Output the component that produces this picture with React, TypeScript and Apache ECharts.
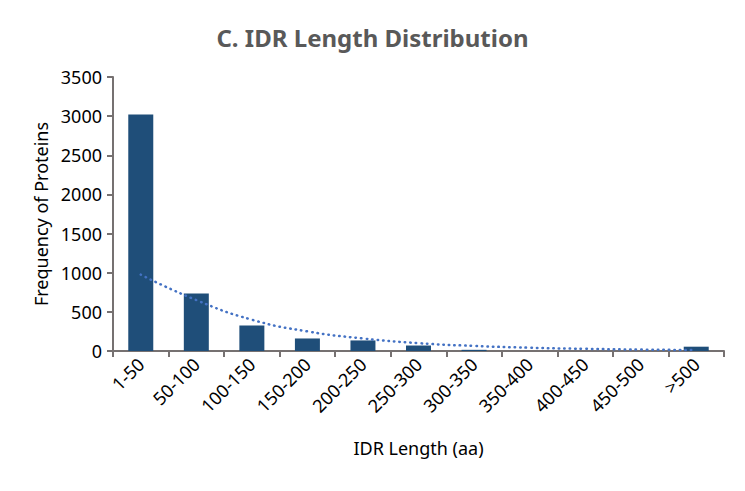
import React, { useEffect, useRef } from "react";
import * as echarts from "echarts";

const categories = ["1-50", "50-100", "100-150", "150-200", "200-250", "250-300", "300-350", "350-400", "400-450", "450-500", ">500"];
const frequencies = [3020, 735, 325, 160, 135, 70, 15, 0, 0, 0, 55];
const trendline = [975, 650, 400, 250, 160, 100, 65, 42, 28, 18, 12];
const yTicks = { min: 0, max: 3500, interval: 500 };

export default function App() {
  const ref = useRef<HTMLDivElement>(null);
  useEffect(() => {
    document.body.style.margin = "0";
    const chart = echarts.init(ref.current!, null, { renderer: "svg" });
    const font = "Noto Sans";
    chart.setOption({
      animation: false,
      title: {
        text: "C. IDR Length Distribution",
        left: "center",
        top: 20,
        textStyle: { fontFamily: font, fontSize: 24, fontWeight: "bold", color: "#595959" },
      },
      grid: { left: 113, right: 21, top: 77, bottom: 140 },
      xAxis: {
        type: "category",
        data: categories,
        name: "IDR Length (aa)",
        nameLocation: "middle",
        nameGap: 88,
        nameTextStyle: { fontFamily: font, fontSize: 18, color: "#000" },
        axisLine: { lineStyle: { color: "#767171", width: 2 } },
        axisTick: { show: true, length: 6, lineStyle: { color: "#767171", width: 2 } },
        axisLabel: { rotate: 45, fontFamily: font, fontSize: 18, color: "#000", margin: 10, interval: 0 },
      },
      yAxis: {
        type: "value",
        min: yTicks.min,
        max: yTicks.max,
        interval: yTicks.interval,
        name: "Frequency of Proteins",
        nameLocation: "middle",
        nameGap: 62,
        nameTextStyle: { fontFamily: font, fontSize: 18, color: "#000" },
        axisLine: { show: true, lineStyle: { color: "#767171", width: 2 } },
        axisTick: { show: true, length: 6, lineStyle: { color: "#767171", width: 2 } },
        axisLabel: { fontFamily: font, fontSize: 18, color: "#000", margin: 11, formatter: (v: number) => String(v) },
        splitLine: { show: false },
      },
      series: [
        {
          type: "bar",
          data: frequencies,
          barWidth: "45%",
          itemStyle: { color: "#1f4e79" },
        },
        {
          type: "line",
          data: trendline,
          smooth: true,
          showSymbol: false,
          symbol: "none",
          lineStyle: { color: "#4472c4", width: 2.5, type: [0.5, 5], cap: "round" },
          z: 3,
        },
      ],
    });
    return () => chart.dispose();
  }, []);
  return <div ref={ref} style={{ width: 745, height: 491 }} />;
}
